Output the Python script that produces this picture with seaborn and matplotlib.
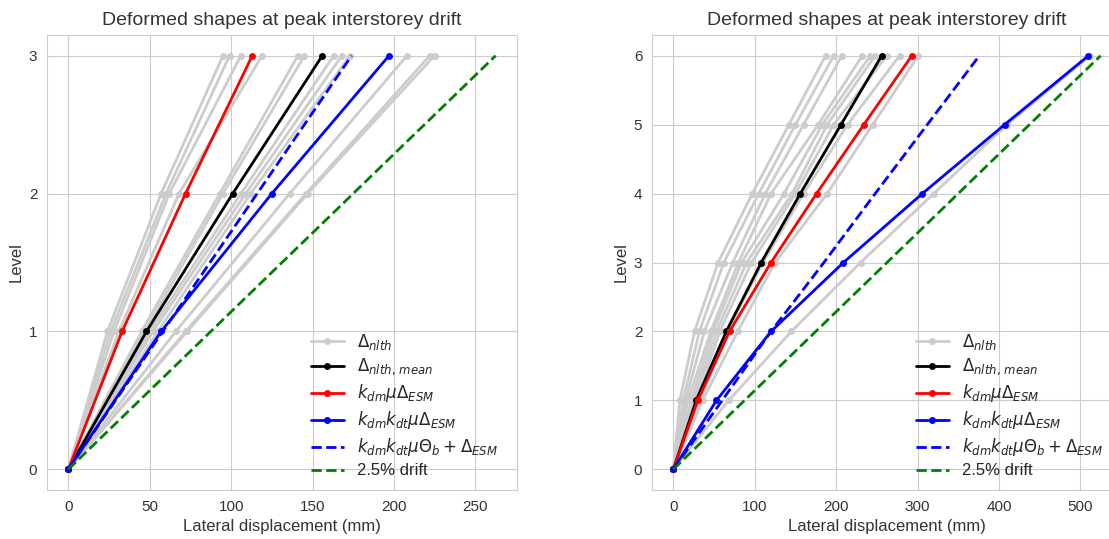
import matplotlib
matplotlib.use("Agg")
import matplotlib.pyplot as plt
import seaborn as sns

# storey levels
levels_3 = [0, 1, 2, 3]
levels_6 = [0, 1, 2, 3, 4, 5, 6]

# --- 3-storey building, displacements in mm ---
nlth_3 = [
    [0, 24, 57, 95],
    [0, 26, 60, 99],
    [0, 28, 62, 106],
    [0, 31, 68, 119],
    [0, 45, 93, 141],
    [0, 47, 95, 145],
    [0, 50, 106, 163],
    [0, 52, 109, 168],
    [0, 55, 112, 173],
    [0, 66, 136, 208],
    [0, 72, 146, 222],
    [0, 73, 147, 225],
]
mean_3 = [0, 48, 101, 156]
kdm_3 = [0, 33, 72, 113]
kdmkdt_3 = [0, 57, 125, 197]
theta_3 = [0, 58, 116, 174]
drift_3 = [0, 87.5, 175, 262.5]

# --- 6-storey building ---
nlth_6 = [
    [0, 8, 26, 55, 97, 142, 187],
    [0, 12, 32, 62, 105, 150, 197],
    [0, 15, 38, 73, 113, 160, 207],
    [0, 18, 46, 80, 120, 178, 232],
    [0, 22, 49, 84, 136, 183, 242],
    [0, 25, 53, 90, 146, 189, 248],
    [0, 28, 57, 96, 150, 197, 262],
    [0, 33, 66, 110, 160, 214, 278],
    [0, 36, 79, 125, 189, 245, 301],
    [0, 68, 145, 230, 320, 410, 512],
]
mean_6 = [0, 28, 65, 108, 156, 206, 256]
kdm_6 = [0, 30, 69, 120, 176, 234, 293]
kdmkdt_6 = [0, 53, 120, 209, 306, 407, 510]
theta_6 = [0, 60, 120, 185, 248, 312, 376]
drift_6 = [0, 87.5, 175, 262.5, 350, 437.5, 525]

sns.set_style("whitegrid")
plt.rcParams['font.family'] = ['Liberation Sans', 'DejaVu Sans']
plt.rcParams['mathtext.fontset'] = 'dejavusans'


def draw(ax, levels, nlth, mean, kdm, kdmkdt, theta, drift, xticks):
    common = dict(ax=ax, sort=False, estimator=None)
    for i, d in enumerate(nlth):
        sns.lineplot(x=d, y=levels, color='#cccccc', marker='o', markersize=5,
                     markeredgewidth=0, linewidth=2,
                     label=r'$\Delta_{nlth}$' if i == 0 else None, **common)
    sns.lineplot(x=mean, y=levels, color='black', marker='o', markersize=5,
                 markeredgewidth=0, linewidth=2,
                 label=r'$\Delta_{nlth,\,mean}$', **common)
    sns.lineplot(x=kdm, y=levels, color='red', marker='o', markersize=5,
                 markeredgewidth=0, linewidth=2,
                 label=r'$k_{dm}\mu\Delta_{ESM}$', **common)
    sns.lineplot(x=kdmkdt, y=levels, color='blue', marker='o', markersize=5,
                 markeredgewidth=0, linewidth=2,
                 label=r'$k_{dm}k_{dt}\mu\Delta_{ESM}$', **common)
    sns.lineplot(x=theta, y=levels, color='blue', linestyle='--', linewidth=2,
                 label=r'$k_{dm}k_{dt}\mu\Theta_b + \Delta_{ESM}$', **common)
    sns.lineplot(x=drift, y=levels, color='green', linestyle='--', linewidth=2,
                 label='2.5% drift', **common)
    ax.set_xticks(xticks)
    ax.set_yticks(levels)
    ax.tick_params(labelsize=11, colors='#333333')
    ax.set_xlabel("Lateral displacement (mm)", fontsize=12, color='#333333')
    ax.set_ylabel("Level", fontsize=12, color='#333333')
    ax.set_title("Deformed shapes at peak interstorey drift", fontsize=14,
                 color='#333333', pad=7,
                 family=['Liberation Sans Narrow', 'Liberation Sans'])
    ax.legend(loc='lower right', fontsize=12, frameon=False, handlelength=2,
              labelspacing=0.3, borderaxespad=0.3, bbox_to_anchor=(0.985, 0))


fig = plt.figure(figsize=(11.09, 5.39), dpi=100)
ax1 = fig.add_axes([47 / 1109, 49 / 539, 470 / 1109, 455 / 539])
ax2 = fig.add_axes([652 / 1109, 49 / 539, 470 / 1109, 455 / 539])

draw(ax1, levels_3, nlth_3, mean_3, kdm_3, kdmkdt_3, theta_3, drift_3,
     [0, 50, 100, 150, 200, 250])
draw(ax2, levels_6, nlth_6, mean_6, kdm_6, kdmkdt_6, theta_6, drift_6,
     [0, 100, 200, 300, 400, 500])

fig.savefig("out.png", dpi=100)
